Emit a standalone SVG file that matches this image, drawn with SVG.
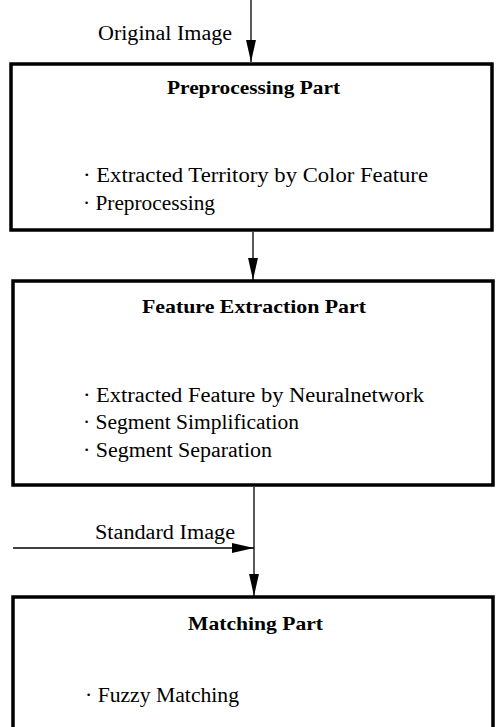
<svg xmlns="http://www.w3.org/2000/svg" width="496" height="727" viewBox="0 0 496 727">
<defs>
<style>
.box{fill:#fff;stroke:#000;stroke-width:3.5}
.wire{fill:none;stroke:#000;stroke-width:1.3}
text{font-family:"Liberation Serif","Times New Roman",serif;fill:#000;font-size:20px}
.title{font-weight:bold;font-size:19.5px}
</style>
<marker id="ah" markerUnits="userSpaceOnUse" markerWidth="22" markerHeight="10" viewBox="0 0 20 9" refX="20" refY="4.5" orient="auto">
<path d="M0,0 L20,4.5 L0,9 Z" fill="#000"/>
</marker>
</defs>
<rect width="496" height="727" fill="#fff"/>
<g id="connectors">
<line class="wire" x1="251" y1="0" x2="251" y2="62" marker-end="url(#ah)"/>
<line class="wire" x1="253" y1="232" x2="253" y2="280" marker-end="url(#ah)"/>
<line class="wire" x1="254" y1="487" x2="254" y2="596" marker-end="url(#ah)"/>
<line class="wire" x1="13" y1="548" x2="254" y2="548" marker-end="url(#ah)"/>
<text x="98" y="40" textLength="134" lengthAdjust="spacingAndGlyphs">Original Image</text>
<text x="95" y="539" textLength="140" lengthAdjust="spacingAndGlyphs">Standard Image</text>
</g>
<g id="preprocessing">
<rect class="box" x="11" y="64" width="481" height="166"/>
<text class="title" x="167" y="94" textLength="173" lengthAdjust="spacingAndGlyphs">Preprocessing Part</text>
<text x="83" y="182" textLength="345" lengthAdjust="spacingAndGlyphs">· Extracted Territory by Color Feature</text>
<text x="83" y="210" textLength="132" lengthAdjust="spacingAndGlyphs">· Preprocessing</text>
</g>
<g id="feature-extraction">
<rect class="box" x="13" y="281" width="480" height="204"/>
<text class="title" x="142" y="313" textLength="224" lengthAdjust="spacingAndGlyphs">Feature Extraction Part</text>
<text x="83" y="402" textLength="341" lengthAdjust="spacingAndGlyphs">· Extracted Feature by Neuralnetwork</text>
<text x="83" y="429" textLength="216" lengthAdjust="spacingAndGlyphs">· Segment Simplification</text>
<text x="83" y="457" textLength="189" lengthAdjust="spacingAndGlyphs">· Segment Separation</text>
</g>
<g id="matching">
<rect class="box" x="13" y="597" width="480" height="150"/>
<text class="title" x="188" y="630" textLength="135" lengthAdjust="spacingAndGlyphs">Matching Part</text>
<text x="85" y="702" textLength="154" lengthAdjust="spacingAndGlyphs">· Fuzzy Matching</text>
</g>
</svg>
